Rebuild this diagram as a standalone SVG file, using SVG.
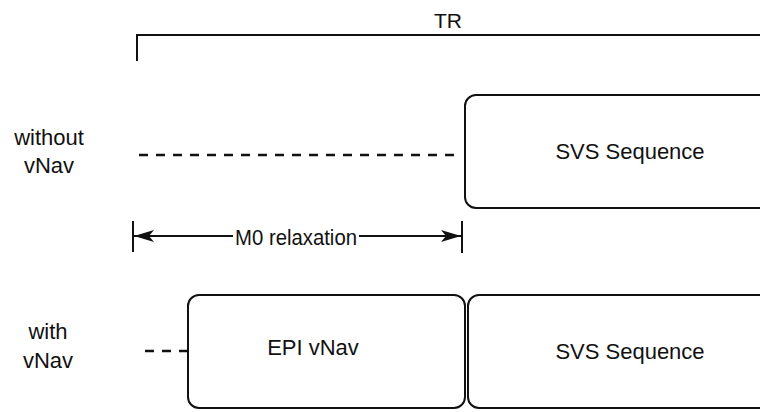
<svg xmlns="http://www.w3.org/2000/svg" width="760" height="412" viewBox="0 0 760 412">
<style>
text{font-family:"Liberation Sans",Arial,sans-serif;fill:#111;font-size:22px}
.box{fill:#fff;stroke:#111;stroke-width:2}
.ln{stroke:#111;stroke-width:2;fill:none}
.dash{stroke:#111;stroke-width:2.5;stroke-dasharray:9 8;fill:none}
</style>
<defs>
<marker id="ah" viewBox="0 0 20 12" refX="20" refY="6" markerWidth="20" markerHeight="12" markerUnits="userSpaceOnUse" orient="auto-start-reverse">
<path d="M0,0 L20,6 L0,12 L5,6 Z" fill="#111"/>
</marker>
</defs>
<g id="tr">
<path class="ln" d="M137,61 V35 H760"/>
<text x="448" y="28" text-anchor="middle" style="font-size:21px">TR</text>
</g>
<g id="label-without">
<text x="49" y="145" text-anchor="middle">without</text>
<text x="49" y="173" text-anchor="middle">vNav</text>
</g>
<g id="label-with">
<text x="48" y="339" text-anchor="middle">with</text>
<text x="48" y="368" text-anchor="middle">vNav</text>
</g>
<g id="svs1">
<rect class="box" x="465" y="95" width="320" height="113" rx="11"/>
<text x="630" y="159" text-anchor="middle">SVS Sequence</text>
</g>
<g id="epi">
<rect class="box" x="188" y="295" width="277" height="113" rx="11"/>
<text x="313" y="355" text-anchor="middle">EPI vNav</text>
</g>
<g id="svs2">
<rect class="box" x="468" y="295" width="320" height="113" rx="11"/>
<text x="630" y="359" text-anchor="middle">SVS Sequence</text>
</g>
<g id="connectors">
<path class="dash" d="M139,155 H462"/>
<path class="dash" d="M145,351 H188"/>
<path class="ln" d="M133,221 V252"/>
<path class="ln" d="M462,221 V253"/>
<path class="ln" d="M233,236 H134" marker-end="url(#ah)"/>
<path class="ln" d="M359,236 H461" marker-end="url(#ah)"/>
<text x="235" y="245" textLength="122" lengthAdjust="spacingAndGlyphs">M0 relaxation</text>
</g>
</svg>
